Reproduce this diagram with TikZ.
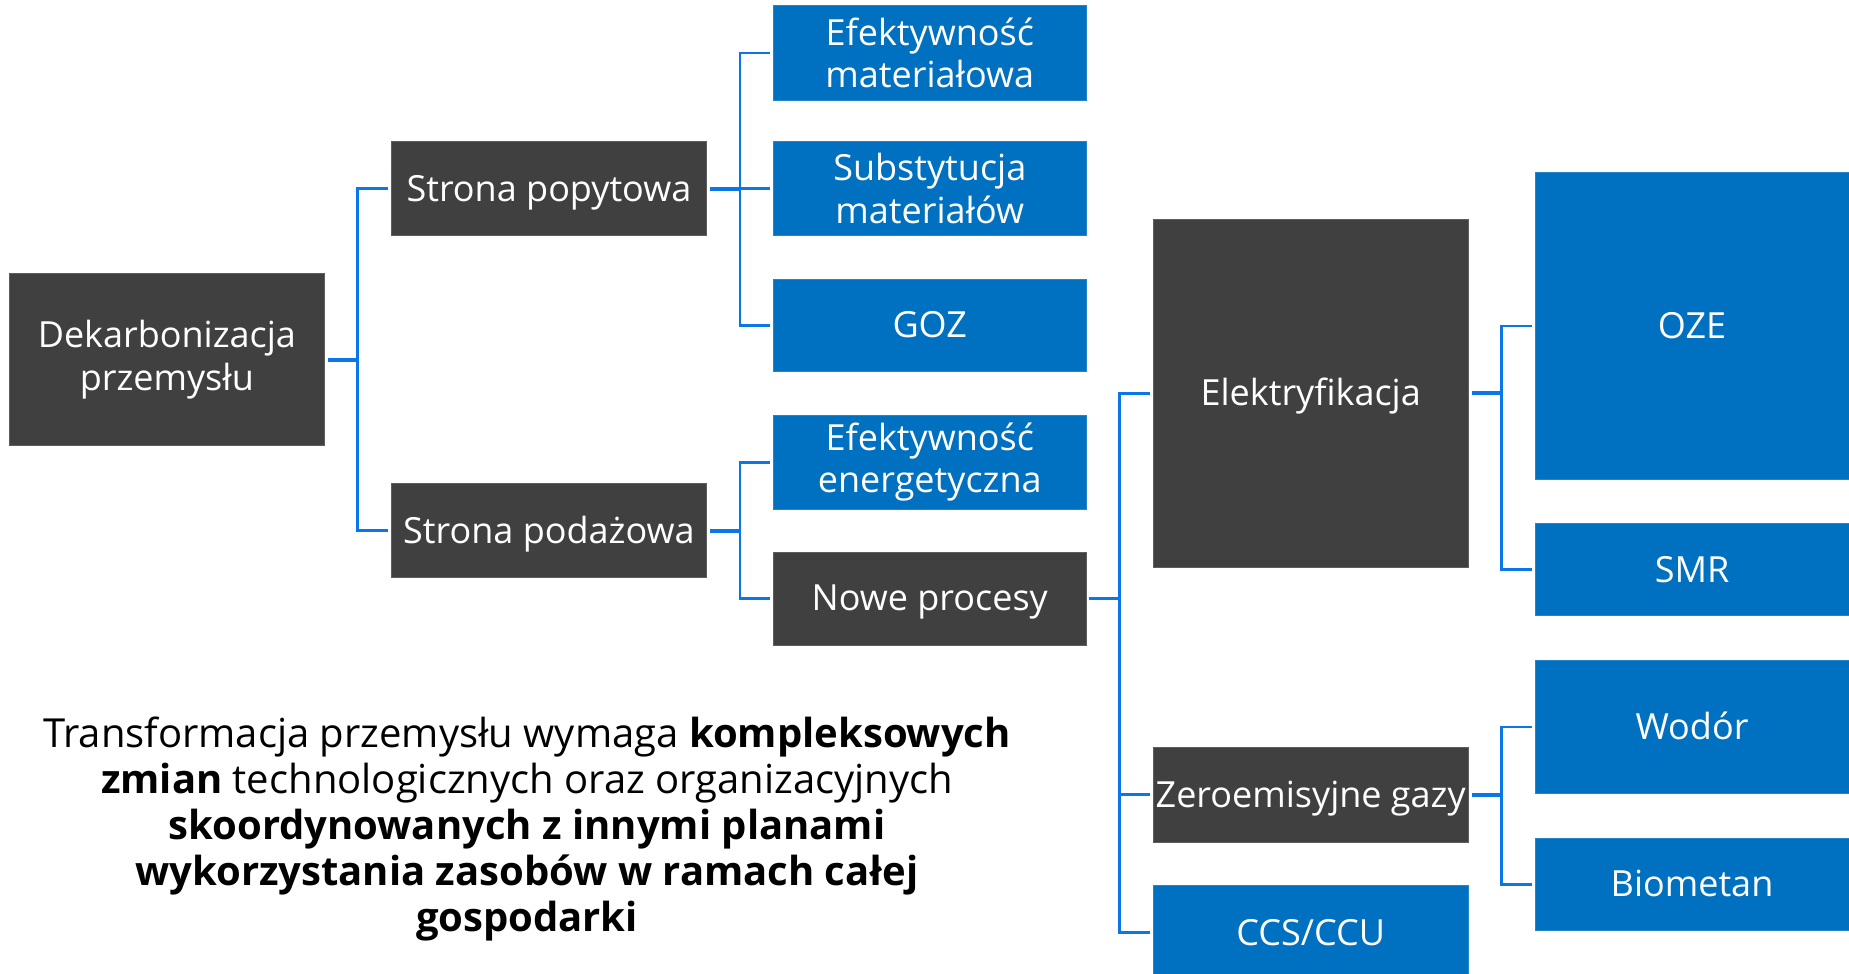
\documentclass[tikz,border=0pt]{standalone}
\usepackage{fontspec}
\setmainfont{Open Sans}
\definecolor{darkbox}{HTML}{404040}
\definecolor{bluebox}{HTML}{0070C0}
\definecolor{conn}{HTML}{0B76E8}
\begin{document}
\begin{tikzpicture}[x=1pt,y=-1pt,
  box/.style={minimum width=315pt, inner sep=0pt, text=white,
    font=\fontsize{36}{42.5}\selectfont, line width=0.8pt},
  one/.style={text height=28pt, text depth=3pt},
  two/.style={align=center},
  darkb/.style={box, fill=darkbox, draw=darkbox!85!white},
  blueb/.style={box, fill=bluebox, draw=bluebox!85!white},
  link/.style={draw=conn, line width=2.6pt},
  stub/.style={draw=conn, line width=3.8pt},
]
\useasboundingbox (0,0) rectangle (1849,974);
\clip (0,0) rectangle (1849,974);

% column 1
\node[darkb, two, minimum height=172pt] (dek) at (166.85,359.65) {Dekarbonizacja\\przemysłu};
% column 2
\node[darkb, one, minimum height=94.3pt] (pop) at (548.9,188.65) {Strona popytowa};
\node[darkb, one, minimum height=94.3pt] (pod) at (548.9,530.65) {Strona podażowa};
% column 3
\node[blueb, two, minimum width=312.5pt, minimum height=94.3pt] (efm) at (929.75,53.05) {Efektywność\\materiałowa};
\node[blueb, two, minimum width=312.5pt, minimum height=94.3pt] (sub) at (929.75,188.65) {Substytucja\\materiałów};
\node[blueb, one, minimum width=312.5pt, minimum height=92pt] (goz) at (929.75,325.45) {GOZ};
\node[blueb, two, minimum width=312.5pt, minimum height=94.3pt] (efe) at (929.75,462.25) {Efektywność\\energetyczna};
\node[darkb, one, minimum width=312.5pt, minimum height=93pt] (now) at (929.75,598.45) {Nowe procesy};
% column 4
\node[darkb, one, minimum height=348pt] (ele) at (1310.7,393.25) {Elektryfikacja};
\node[darkb, one, minimum height=94.3pt] (zer) at (1310.7,794.75) {Zeroemisyjne gazy};
\node[blueb, one, minimum height=94.3pt] (ccs) at (1310.7,932.7) {CCS/CCU};
% column 5
\node[blueb, one, minimum width=314pt, minimum height=307.7pt] (oze) at (1692,326) {OZE};
\node[blueb, one, minimum width=314pt, minimum height=92pt] (smr) at (1692,569.5) {SMR};
\node[blueb, one, minimum width=314pt, minimum height=133pt] (wod) at (1692,727) {Wodór};
\node[blueb, one, minimum width=314pt, minimum height=92pt] (bio) at (1692,884.4) {Biometan};

% connectors
\foreach \s/\t in {dek/pop, dek/pod, pop/efm, pop/sub, pop/goz, pod/efe, pod/now,
                   now/ele, now/zer, now/ccs, ele/oze, ele/smr, zer/wod, zer/bio}{
  \draw[link] ([xshift=33pt]\s.east) |- ([xshift=-3pt]\t.west);
}
\foreach \s in {dek, pop, pod, now, ele, zer}{
  \draw[stub] ([xshift=3pt]\s.east) -- ++(31.3,0);
}

% caption
\node[align=center, font=\fontsize{40}{46}\selectfont, inner sep=0pt] (cap) at (527,829)
  {Transformacja przemysłu wymaga \textbf{kompleksowych}\\
   \textbf{zmian} technologicznych oraz organizacyjnych\\
   \textbf{skoordynowanych z innymi planami}\\
   \textbf{wykorzystania zasobów w ramach całej}\\
   \textbf{gospodarki}};
\end{tikzpicture}
\end{document}
